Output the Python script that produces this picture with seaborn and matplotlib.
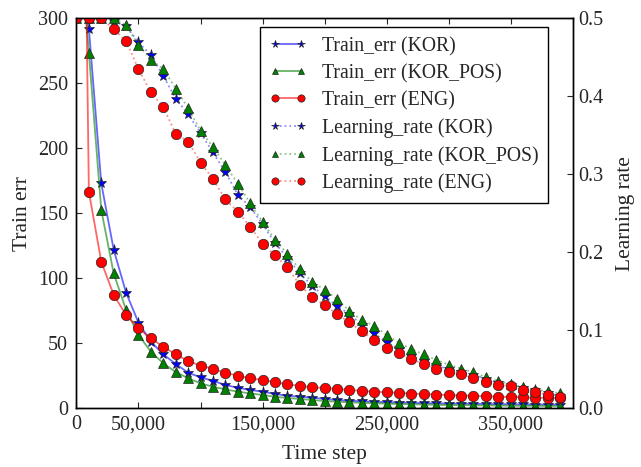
import matplotlib
matplotlib.use('Agg')
import numpy as np
import pandas as pd
import seaborn as sns
import matplotlib.pyplot as plt

# time steps (thousands)
steps_k = [0, 10, 20, 30, 40, 50, 60, 70, 80, 90,
           100, 110, 120, 130, 140, 150, 160, 170, 180, 190,
           200, 210, 220, 230, 240, 250, 260, 270, 280, 290,
           300, 310, 320, 330, 340, 350, 360, 370, 380, 390]

# training error (left axis)
train_kor = [350, 292, 173, 122, 89, 65.8, 51.2, 41.5, 34.1, 27.4,
             23.8, 21.2, 17.9, 15.8, 14.1, 12.8, 11.0, 9.7, 8.9, 8.2,
             7.2, 6.4, 5.8, 5.4, 5.0, 4.7, 4.4, 4.2, 4.0, 3.8,
             3.6, 3.5, 3.4, 3.3, 3.2, 3.1, 3.0, 2.9, 2.9, 2.8]
train_kor_pos = [395, 273.5, 152.5, 103.8, 75.6, 56.4, 43.5, 34.6, 27.9, 23.1,
                 19.2, 16.6, 14.6, 12.8, 11.5, 10.2, 8.9, 7.9, 7.2, 6.4,
                 5.6, 5.1, 4.6, 4.2, 3.9, 3.6, 3.3, 3.1, 2.9, 2.7,
                 2.5, 2.4, 2.3, 2.2, 2.1, 2.0, 1.9, 1.9, 1.8, 1.8]
train_eng = [890, 166.6, 112.8, 87.2, 71.8, 61.5, 53.8, 47.4, 41.5, 36.4,
             32.8, 30.5, 27.4, 25.1, 23.1, 21.8, 20.2, 18.5, 17.2, 16.2,
             15.6, 14.8, 14.1, 13.4, 12.8, 12.3, 11.8, 11.3, 10.9, 10.5,
             10.1, 9.8, 9.5, 9.2, 8.9, 8.7, 8.4, 8.2, 8.0, 7.8]

# learning rate (right axis)
lr_kor = [0.5, 0.5, 0.5, 0.496, 0.49, 0.469, 0.453, 0.426, 0.397, 0.377,
          0.353, 0.328, 0.303, 0.274, 0.258, 0.236, 0.212, 0.193, 0.173, 0.157,
          0.144, 0.131, 0.121, 0.107, 0.096, 0.085, 0.076, 0.067, 0.060, 0.055,
          0.050, 0.047, 0.043, 0.038, 0.033, 0.030, 0.026, 0.023, 0.019, 0.016]
lr_kor_pos = [0.5, 0.5, 0.5, 0.5, 0.491, 0.466, 0.447, 0.435, 0.410, 0.385,
              0.356, 0.335, 0.312, 0.288, 0.263, 0.239, 0.216, 0.198, 0.178, 0.162,
              0.152, 0.140, 0.125, 0.113, 0.106, 0.094, 0.084, 0.076, 0.069, 0.062,
              0.056, 0.051, 0.046, 0.040, 0.035, 0.031, 0.027, 0.024, 0.022, 0.019]
lr_eng = [0.5, 0.5, 0.5, 0.486, 0.471, 0.435, 0.405, 0.386, 0.352, 0.342,
          0.315, 0.294, 0.268, 0.252, 0.233, 0.211, 0.196, 0.181, 0.158, 0.143,
          0.132, 0.121, 0.110, 0.099, 0.087, 0.077, 0.0705, 0.063, 0.057, 0.051,
          0.046, 0.044, 0.039, 0.034, 0.030, 0.0286, 0.024, 0.021, 0.017, 0.015]

xtick_vals = [0, 50000, 100000, 150000, 200000, 250000, 300000, 350000, 400000]
xtick_labels = ['0', '50,000', '', '150,000', '', '250,000', '', '350,000', '']

steps = [s * 1000 for s in steps_k]

sns.set_style('ticks')
plt.rcParams['font.family'] = ['Liberation Serif', 'DejaVu Serif']
plt.rcParams['xtick.direction'] = 'in'
plt.rcParams['ytick.direction'] = 'in'

fig = plt.figure(figsize=(6.41, 4.67), dpi=100)
ax = fig.add_axes([0.1193, 0.1257, 0.7741, 0.8351])
ax2 = ax.twinx()

blue = (0, 0, 1)
green = (0, 0.5, 0)
red = (1, 0, 0)

series = [
    (ax, train_kor, 'Train_err (KOR)', blue, '*', 8, '-', 0.6),
    (ax, train_kor_pos, 'Train_err (KOR_POS)', green, '^', 6.5, '-', 0.6),
    (ax, train_eng, 'Train_err (ENG)', red, 'o', 7.5, '-', 0.6),
    (ax2, lr_kor, 'Learning_rate (KOR)', blue, '*', 8, ':', 0.45),
    (ax2, lr_kor_pos, 'Learning_rate (KOR_POS)', green, '^', 6.5, ':', 0.45),
    (ax2, lr_eng, 'Learning_rate (ENG)', red, 'o', 7.5, ':', 0.45),
]

for a, vals, name, c, m, ms, ls, alpha in series:
    df = pd.DataFrame({'step': steps, 'value': vals})
    sns.lineplot(data=df, x='step', y='value', ax=a, legend=False,
                 errorbar=None, label=name, color=c + (alpha,),
                 linestyle=ls, linewidth=1.3, marker=m, markersize=ms,
                 markerfacecolor=c, markeredgecolor=(0.15, 0.15, 0.15),
                 markeredgewidth=0.5)

ax.set_xlim(0, 400000)
ax.set_ylim(0, 300)
ax2.set_ylim(0, 0.5)
ax.set_xticks(xtick_vals)
ax.set_xticklabels(xtick_labels)
ax.set_yticks([0, 50, 100, 150, 200, 250, 300])
ax2.set_yticks([0.0, 0.1, 0.2, 0.3, 0.4, 0.5])
ax2.set_yticklabels(['0.0', '0.1', '0.2', '0.3', '0.4', '0.5'])

fs = 14.5
ax.tick_params(axis='both', labelsize=fs, length=4, width=0.8, top=True, pad=5)
ax.tick_params(axis='y', right=False, pad=6)
ax2.tick_params(axis='y', labelsize=fs, length=4, width=0.8, pad=4)
for a in (ax, ax2):
    for sp in a.spines.values():
        sp.set_color('k')
        sp.set_linewidth(1.0)

ax.set_xlabel('Time step', fontsize=15.5, labelpad=8)
ax.set_ylabel('Train err', fontsize=15.5, labelpad=4)
ax2.set_ylabel('Learning rate', fontsize=15.5, labelpad=9)

h1, l1 = ax.get_legend_handles_labels()
h2, l2 = ax2.get_legend_handles_labels()
leg = ax2.legend(h1 + h2, l1 + l2, loc='upper right',
                 bbox_to_anchor=(0.9506, 0.9777), borderaxespad=0,
                 fontsize=14.2, frameon=True, fancybox=False, framealpha=1,
                 edgecolor='k', numpoints=2, markerscale=0.7,
                 handlelength=1.9, handletextpad=0.75, labelspacing=0.4,
                 borderpad=0.5)
leg.get_frame().set_linewidth(1.0)

fig.savefig('out.png', dpi=100)
